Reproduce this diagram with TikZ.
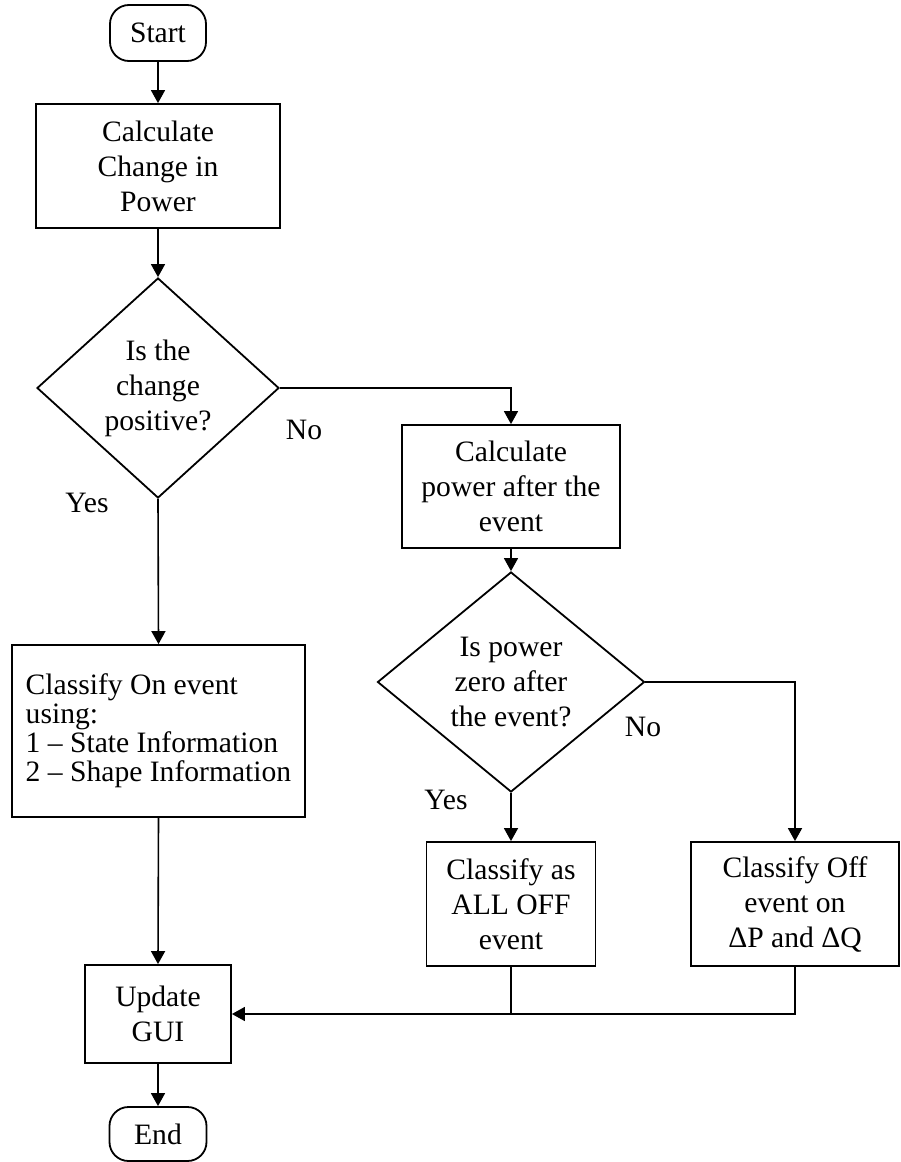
\documentclass[tikz,border=0pt]{standalone}
\usepackage{fontspec}
\setmainfont{Liberation Serif}
\usetikzlibrary{shapes.geometric,arrows.meta}

\begin{document}
\begin{tikzpicture}[x=1pt,y=-1pt,
  every node/.style={font=\fontsize{29.6}{35}\selectfont, inner sep=0pt},
  box/.style={draw, rectangle, line width=1.8pt, align=center},
  term/.style={draw, rectangle, rounded corners=19pt, line width=1.8pt, align=center},
  dec/.style={draw, diamond, aspect=1.2, line width=1.8pt, align=center},
  arr/.style={line width=1.6pt, -{Triangle[length=13pt,width=14pt]}},
  wire/.style={line width=1.6pt},
  lbl/.style={align=center}]
\useasboundingbox (0,0) rectangle (901,1162);

% process column on the left
\node[term, minimum width=96pt, minimum height=56pt] (start) at (158,33) {Start};
\node[box, minimum width=244pt, minimum height=124pt] (calc) at (158,166) {Calculate\\Change in\\Power};
\node[dec, minimum width=242pt, minimum height=220pt] (d1) at (158,388) {Is the\\change\\positive?};
\node[box, minimum width=293pt, minimum height=172pt, align=left,
      font=\fontsize{29.6}{29}\selectfont] (on) at (158.5,731)
      {Classify On event\\using:\\1 – State Information\\2 – Shape Information};
\node[box, minimum width=146pt, minimum height=98pt] (gui) at (158,1014) {Update\\GUI};
\node[term, minimum width=97pt, minimum height=54pt] (end) at (158,1134) {End};

% off-event branch
\node[box, minimum width=218pt, minimum height=123pt] (pw) at (511,486.5) {Calculate\\power after the\\event};
\node[dec, minimum width=267pt, minimum height=220pt] (d2) at (511,682) {Is power\\zero after\\the event?};
\node[box, minimum width=169pt, minimum height=124pt] (alloff) at (511,904) {Classify as\\ALL OFF\\event};
\node[box, minimum width=208pt, minimum height=124pt] (off) at (795,904) {Classify Off\\event on\\ΔP and ΔQ};

% branch labels
\node[lbl] (no1) at (304,430) {No};
\node[lbl] (yes1) at (87,503) {Yes};
\node[lbl] (no2) at (643,727) {No};
\node[lbl] (yes2) at (446,800) {Yes};

% connectors
\draw[arr] (start) -- (calc);
\draw[arr] (calc) -- (d1);
\draw[arr] (d1.east) -| (pw.north);
\draw[arr] (d1.south) -- (on.north);
\draw[arr] (pw) -- (d2);
\draw[arr] (d2.south) -- (alloff.north);
\draw[arr] (d2.east) -| (off.north);
\draw[arr] (on.south) -- (gui.north);
\draw[arr] (off.south) |- (gui.east);
\draw[wire] (alloff.south) -- (alloff.south |- gui.east);
\draw[arr] (gui.south) -- (end.north);
\end{tikzpicture}
\end{document}
